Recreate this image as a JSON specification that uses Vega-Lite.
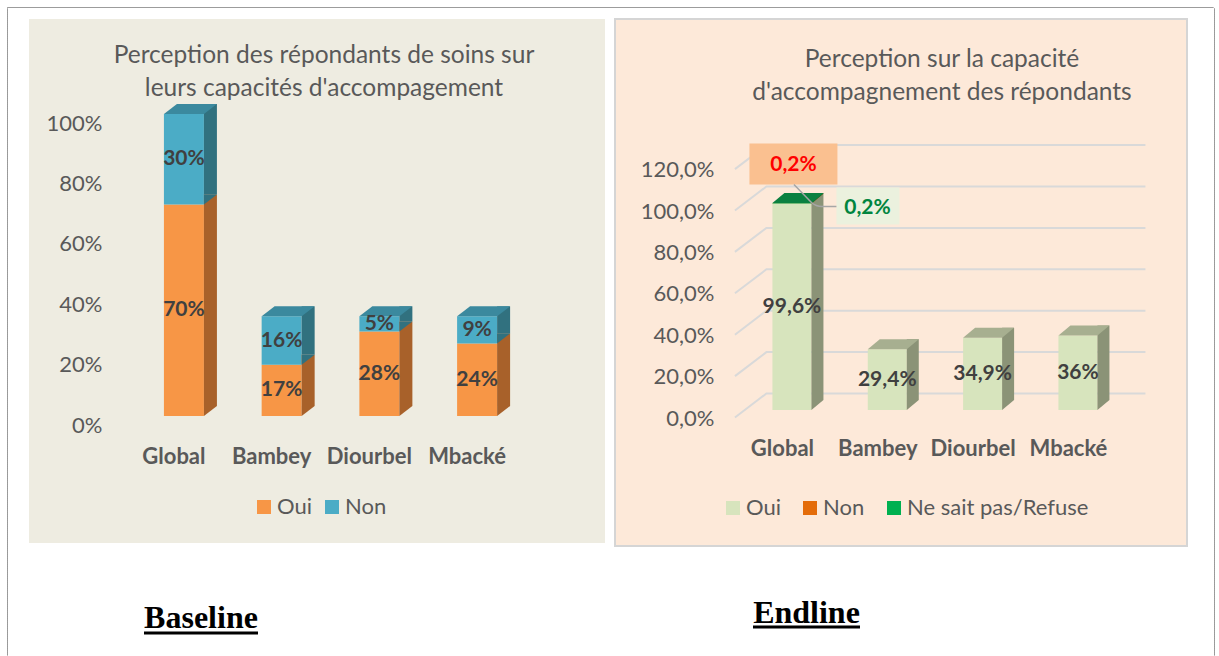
{
 "$schema": "https://vega.github.io/schema/vega-lite/v6.json",
 "background": "#FFFFFF",
 "padding": {"left": 6, "top": 6, "right": 0, "bottom": 0},
 "config": {
  "locale": {"number": {"decimal": ",", "thousands": "\u00a0", "grouping": [3], "currency": ["", "\u00a0€"]}},
  "font": "Lato",
  "view": {"stroke": null}
 },
 "bounds": "flush",
 "spacing": 0,
 "vconcat": [
  {"width": 1206, "height": 0.01, "data": {"values": []}, "mark": {"type": "text", "text": ""}, "encoding": {},
   "view": {"stroke": "#7A7A7A", "strokeDash": [1, 1], "strokeWidth": 1, "fill": null}},
  {"bounds": "flush", "spacing": 0,
   "hconcat": [
    {"width": 0.01, "height": 647, "data": {"values": []}, "mark": {"type": "text", "text": ""}, "encoding": {},
     "view": {"stroke": "#7A7A7A", "strokeDash": [1, 1], "strokeWidth": 1, "fill": null}},
    {"width": 1206, "height": 0.01, "data": {"values": []}, "mark": {"type": "text", "text": ""}, "encoding": {}},
    {"width": 0.01, "height": 647, "data": {"values": []}, "mark": {"type": "text", "text": ""}, "encoding": {},
     "view": {"stroke": "#7A7A7A", "strokeDash": [1, 1], "strokeWidth": 1, "fill": null}}
   ]},
  {"bounds": "flush", "spacing": 0,
   "vconcat": [
    {"width": 1, "height": 11, "data": {"values": []}, "mark": {"type": "text", "text": ""}, "encoding": {}},
    {"bounds": "flush", "spacing": 0,
     "resolve": {"scale": {"color": "independent", "fill": "independent"}, "legend": {"color": "independent"}},
     "hconcat": [
      {"width": 22, "height": 1, "data": {"values": []}, "mark": {"type": "text", "text": ""}, "encoding": {}},
      {
       "width": 576, "height": 524,
       "view": {"fill": "#EEECE1", "stroke": null},
       "title": {"text": ["Perception des répondants de soins sur", "leurs capacités d'accompagement"], "anchor": "middle", "frame": "group", "orient": "top", "offset": -82, "dx": 7, "font": "Lato", "fontSize": 24.5, "fontWeight": "normal", "color": "#595959", "lineHeight": 32.5},
       "data": {"values": [
        {"cat": "Global", "s": "Oui", "v": 0.70},
        {"cat": "Global", "s": "Non", "v": 0.30},
        {"cat": "Bambey", "s": "Oui", "v": 0.17},
        {"cat": "Bambey", "s": "Non", "v": 0.16},
        {"cat": "Diourbel", "s": "Oui", "v": 0.28},
        {"cat": "Diourbel", "s": "Non", "v": 0.05},
        {"cat": "Mbacké", "s": "Oui", "v": 0.24},
        {"cat": "Mbacké", "s": "Non", "v": 0.09}
       ]},
       "transform": [
        {"stack": "v", "groupby": ["cat"], "sort": [{"field": "s", "order": "descending"}], "as": ["v0", "v1"]},
        {"joinaggregate": [{"op": "max", "field": "v1", "as": "tot"}], "groupby": ["cat"]}
       ],
       "encoding": {
        "x": {"field": "cat", "type": "nominal", "sort": ["Global", "Bambey", "Diourbel", "Mbacké"],
              "scale": {"domain": ["Global", "Bambey", "Diourbel", "Mbacké"], "paddingInner": 0, "paddingOuter": 0.947, "align": 0.573},
              "axis": {"title": null, "domain": false, "ticks": false, "tickSize": 0, "labelPadding": 0, "offset": -87, "labelOffset": -10, "labelBaseline": "middle", "labelFont": "Lato", "labelFontSize": 22, "labelFontWeight": "bold", "labelColor": "#595959", "labelAngle": 0, "grid": false}}
       },
       "layer": [
        {"mark": {"type": "bar", "width": 40},
         "encoding": {
          "y": {"field": "v1", "type": "quantitative", "scale": {"domain": [-0.4205, 1.3146], "nice": false, "zero": false},
                "axis": {"values": [0, 0.2, 0.4, 0.6, 0.8, 1], "format": ".0%", "title": null, "domain": false, "ticks": false, "tickSize": 0, "grid": false, "labelPadding": 0, "offset": -73, "labelOffset": 9, "labelFont": "Lato", "labelFontSize": 22, "labelColor": "#595959"}},
          "y2": {"field": "v0"},
          "color": {"field": "s", "type": "nominal", "scale": {"domain": ["Oui", "Non"], "range": ["#F79646", "#4BACC6"]},
                    "legend": {"title": null, "orient": "none", "legendX": 224, "legendY": 477, "direction": "horizontal", "symbolType": "square", "symbolSize": 196, "symbolStrokeWidth": 0, "labelFont": "Lato", "labelFontSize": 22, "labelColor": "#595959", "labelOffset": 2, "columnPadding": 9, "padding": 0, "labelLimit": 400}}
         }},
        {"mark": {"type": "bar", "width": 13, "xOffset": 26.5, "yOffset": -10, "y2Offset": -10},
         "encoding": {
          "y": {"field": "v1", "type": "quantitative", "scale": {"domain": [-0.4205, 1.3146], "nice": false, "zero": false}},
          "y2": {"field": "v0"},
          "fill": {"field": "s", "type": "nominal", "scale": {"domain": ["Oui", "Non"], "range": ["#A8612A", "#31717F"]}, "legend": null}
         }},
        {"mark": {"type": "point", "shape": "M 20 0 L 20 -10 L 33 -10 Z", "size": 4, "filled": true, "opacity": 1, "strokeWidth": 0},
         "encoding": {
          "y": {"field": "v0", "type": "quantitative", "scale": {"domain": [-0.4205, 1.3146], "nice": false, "zero": false}},
          "fill": {"field": "s", "type": "nominal", "scale": {"domain": ["Oui", "Non"], "range": ["#A8612A", "#31717F"]}, "legend": null}
         }},
        {"transform": [{"filter": "datum.v1 >= datum.tot"}],
         "mark": {"type": "point", "shape": "M -20 0 L 20 0 L 33 -10 L -7 -10 Z", "size": 4, "filled": true, "opacity": 1, "strokeWidth": 0},
         "encoding": {
          "y": {"field": "v1", "type": "quantitative", "scale": {"domain": [-0.4205, 1.3146], "nice": false, "zero": false}},
          "fill": {"field": "s", "type": "nominal", "scale": {"domain": ["Oui", "Non"], "range": ["#C97A3A", "#3B899E"]}, "legend": null}
         }},
        {"mark": {"type": "text", "font": "Lato", "fontSize": 21, "fontWeight": "bold", "color": "#404040", "baseline": "middle", "align": "center"},
         "encoding": {
          "y": {"field": "v", "type": "quantitative", "stack": "zero", "bandPosition": 0.5, "scale": {"domain": [-0.4205, 1.3146], "nice": false, "zero": false}},
          "detail": {"field": "s"},
          "order": {"field": "s", "sort": "descending"},
          "text": {"field": "v", "type": "quantitative", "format": ".0%"}
         }}
       ],
       "resolve": {"scale": {"fill": "independent"}}
      },
      {"width": 10, "height": 1, "data": {"values": []}, "mark": {"type": "text", "text": ""}, "encoding": {}},
      {
       "width": 572, "height": 527,
       "view": {"fill": "#FDE9D9", "stroke": "#D5D5D5", "strokeWidth": 2},
       "title": {"text": ["Perception sur la capacité", "d'accompagnement des répondants"], "anchor": "middle", "frame": "group", "orient": "top", "offset": -86, "dx": 41, "font": "Lato", "fontSize": 24.5, "fontWeight": "normal", "color": "#595959", "lineHeight": 32.5},
       "data": {"values": [
        {"cat": "Global", "s": "Oui", "v": 0.996},
        {"cat": "Global", "s": "Non", "v": 0.002},
        {"cat": "Global", "s": "Ne sait pas/Refuse", "v": 0.002},
        {"cat": "Bambey", "s": "Oui", "v": 0.294},
        {"cat": "Diourbel", "s": "Oui", "v": 0.349},
        {"cat": "Mbacké", "s": "Oui", "v": 0.36}
       ]},
       "transform": [
        {"stack": "v", "groupby": ["cat"], "sort": [{"field": "s", "order": "descending"}], "as": ["v0", "v1"]},
        {"joinaggregate": [{"op": "max", "field": "v1", "as": "tot"}], "groupby": ["cat"]}
       ],
       "encoding": {
        "x": {"field": "cat", "type": "nominal", "sort": ["Global", "Bambey", "Diourbel", "Mbacké"],
              "scale": {"domain": ["Global", "Bambey", "Diourbel", "Mbacké"], "paddingInner": 0, "paddingOuter": 1.037, "align": 0.678},
              "axis": {"title": null, "domain": false, "ticks": false, "tickSize": 0, "labelPadding": 0, "offset": -97.5, "labelOffset": -9.5, "labelBaseline": "middle", "labelFont": "Lato", "labelFontSize": 22, "labelFontWeight": "bold", "labelColor": "#595959", "labelAngle": 0, "grid": false}}
       },
       "layer": [
        {"data": {"values": [{"g": 0}, {"g": 0.2}, {"g": 0.4}, {"g": 0.6}, {"g": 0.8}, {"g": 1.0}, {"g": 1.2}]},
         "mark": {"type": "point", "shape": "M -57 24 L -25.5 0 L 353.5 0", "size": 4, "filled": false, "opacity": 1, "color": "#D9D9D9", "stroke": "#D9D9D9", "strokeWidth": 2, "yOffset": -16.5},
         "encoding": {
          "x": {"datum": "Global", "type": "nominal"},
          "y": {"field": "g", "type": "quantitative", "scale": {"domain": [-0.657, 1.8889], "nice": false, "zero": false}}
         }},
        {"mark": {"type": "bar", "width": 39},
         "encoding": {
          "y": {"field": "v1", "type": "quantitative", "scale": {"domain": [-0.657, 1.8889], "nice": false, "zero": false},
                "axis": {"values": [0, 0.2, 0.4, 0.6, 0.8, 1, 1.2], "format": ".1%", "title": null, "domain": false, "ticks": false, "tickSize": 0, "grid": false, "labelPadding": 0, "offset": -99, "labelOffset": 8, "labelFont": "Lato", "labelFontSize": 22, "labelColor": "#595959"}},
          "y2": {"field": "v0"},
          "color": {"field": "s", "type": "nominal", "scale": {"domain": ["Oui", "Non", "Ne sait pas/Refuse"], "range": ["#D7E4BD", "#E46C0A", "#00B050"]},
                    "legend": {"title": null, "orient": "none", "legendX": 107, "legendY": 478, "direction": "horizontal", "symbolType": "square", "symbolSize": 196, "symbolStrokeWidth": 0, "labelFont": "Lato", "labelFontSize": 22, "labelColor": "#595959", "labelOffset": 2, "columnPadding": 18, "padding": 0, "labelLimit": 400}}
         }},
        {"mark": {"type": "bar", "width": 12, "xOffset": 25.5, "yOffset": -10, "y2Offset": -10},
         "encoding": {
          "y": {"field": "v1", "type": "quantitative", "scale": {"domain": [-0.657, 1.8889], "nice": false, "zero": false}},
          "y2": {"field": "v0"},
          "fill": {"field": "s", "type": "nominal", "scale": {"domain": ["Oui", "Non", "Ne sait pas/Refuse"], "range": ["#8B9377", "#A04C07", "#007B38"]}, "legend": null}
         }},
        {"mark": {"type": "point", "shape": "M 19.5 0 L 19.5 -10 L 31.5 -10 Z", "size": 4, "filled": true, "opacity": 1, "strokeWidth": 0},
         "encoding": {
          "y": {"field": "v0", "type": "quantitative", "scale": {"domain": [-0.657, 1.8889], "nice": false, "zero": false}},
          "fill": {"field": "s", "type": "nominal", "scale": {"domain": ["Oui", "Non", "Ne sait pas/Refuse"], "range": ["#8B9377", "#A04C07", "#007B38"]}, "legend": null}
         }},
        {"transform": [{"filter": "datum.v1 >= datum.tot"}],
         "mark": {"type": "point", "shape": "M -19.5 0 L 19.5 0 L 31.5 -10 L -7.5 -10 Z", "size": 4, "filled": true, "opacity": 1, "strokeWidth": 0},
         "encoding": {
          "y": {"field": "v1", "type": "quantitative", "scale": {"domain": [-0.657, 1.8889], "nice": false, "zero": false}},
          "fill": {"field": "s", "type": "nominal", "scale": {"domain": ["Oui", "Non", "Ne sait pas/Refuse"], "range": ["#A7AF90", "#B95809", "#0B8040"]}, "legend": null}
         }},
        {"transform": [{"filter": "datum.s == 'Oui'"}],
         "mark": {"type": "text", "font": "Lato", "fontSize": 21, "fontWeight": "bold", "color": "#404040", "baseline": "middle", "align": "center"},
         "encoding": {
          "y": {"field": "v", "type": "quantitative", "stack": "zero", "bandPosition": 0.5, "scale": {"domain": [-0.657, 1.8889], "nice": false, "zero": false}},
          "detail": {"field": "s"},
          "text": {"field": "v", "type": "quantitative", "format": ".1~%"}
         }},
        {"transform": [{"filter": "datum.cat == 'Global' && datum.s == 'Ne sait pas/Refuse'"}],
         "mark": {"type": "point", "shape": "M -42.5 -59.5 L 45.5 -59.5 L 45.5 -18.5 L -42.5 -18.5 Z", "size": 4, "filled": true, "opacity": 1, "strokeWidth": 0, "color": "#FAC090"},
         "encoding": {"y": {"field": "v1", "type": "quantitative", "scale": {"domain": [-0.657, 1.8889], "nice": false, "zero": false}}}},
        {"transform": [{"filter": "datum.cat == 'Global' && datum.s == 'Ne sait pas/Refuse'"}],
         "mark": {"type": "point", "shape": "M 44.5 -15.5 L 107.5 -15.5 L 107.5 21.5 L 44.5 21.5 Z", "size": 4, "filled": true, "opacity": 1, "strokeWidth": 0, "color": "#EBF1DE"},
         "encoding": {"y": {"field": "v1", "type": "quantitative", "scale": {"domain": [-0.657, 1.8889], "nice": false, "zero": false}}}},
        {"transform": [{"filter": "datum.cat == 'Global' && datum.s == 'Ne sait pas/Refuse'"}],
         "mark": {"type": "point", "shape": "M 2 -18.5 L 19.5 -0.5 Q 24 3.5 30 3.5 L 44.5 3.5", "size": 4, "filled": false, "opacity": 1, "strokeWidth": 1.5, "color": "#A6A6A6"},
         "encoding": {"y": {"field": "v1", "type": "quantitative", "scale": {"domain": [-0.657, 1.8889], "nice": false, "zero": false}}}},
        {"transform": [{"filter": "datum.cat == 'Global' && datum.s == 'Non'"}],
         "mark": {"type": "text", "font": "Lato", "fontSize": 21, "fontWeight": "bold", "color": "#FF0000", "baseline": "middle", "align": "center", "dx": 1.5, "dy": -38},
         "encoding": {
          "y": {"field": "v1", "type": "quantitative", "scale": {"domain": [-0.657, 1.8889], "nice": false, "zero": false}},
          "text": {"field": "v", "type": "quantitative", "format": ".1~%"}
         }},
        {"transform": [{"filter": "datum.cat == 'Global' && datum.s == 'Ne sait pas/Refuse'"}],
         "mark": {"type": "text", "font": "Lato", "fontSize": 21, "fontWeight": "bold", "color": "#00853F", "baseline": "middle", "align": "center", "dx": 75.5, "dy": 4.5},
         "encoding": {
          "y": {"field": "v1", "type": "quantitative", "scale": {"domain": [-0.657, 1.8889], "nice": false, "zero": false}},
          "text": {"field": "v", "type": "quantitative", "format": ".1~%"}
         }}
       ],
       "resolve": {"scale": {"fill": "independent"}}
      }
     ]},
    {"width": 1, "height": 568, "data": {"values": []}, "mark": {"type": "text", "text": ""}, "encoding": {}},
    {"bounds": "flush", "spacing": 0,
     "hconcat": [
      {"width": 137, "height": 1, "data": {"values": []}, "mark": {"type": "text", "text": ""}, "encoding": {}},
      {"width": 114, "height": 46,
       "data": {"values": [{"t": "Baseline"}]},
       "layer": [
        {"mark": {"type": "rule", "strokeWidth": 3, "color": "#000000"},
         "encoding": {"y": {"datum": 0, "type": "quantitative", "scale": {"domain": [0, 1]}, "axis": null}}},
        {"mark": {"type": "text", "font": "Liberation Serif", "fontSize": 32, "fontWeight": "bold", "color": "#000000", "baseline": "alphabetic", "align": "center", "dy": -5.5},
         "encoding": {"y": {"datum": 0, "type": "quantitative", "scale": {"domain": [0, 1]}, "axis": null}, "text": {"field": "t"}}}
       ]},
      {"width": 495, "height": 1, "data": {"values": []}, "mark": {"type": "text", "text": ""}, "encoding": {}},
      {"width": 107, "height": 40,
       "data": {"values": [{"t": "Endline"}]},
       "layer": [
        {"mark": {"type": "rule", "strokeWidth": 3, "color": "#000000"},
         "encoding": {"y": {"datum": 0, "type": "quantitative", "scale": {"domain": [0, 1]}, "axis": null}}},
        {"mark": {"type": "text", "font": "Liberation Serif", "fontSize": 32, "fontWeight": "bold", "color": "#000000", "baseline": "alphabetic", "align": "center", "dy": -4.5},
         "encoding": {"y": {"datum": 0, "type": "quantitative", "scale": {"domain": [0, 1]}, "axis": null}, "text": {"field": "t"}}}
       ]}
     ]}
   ]}
 ]
}
